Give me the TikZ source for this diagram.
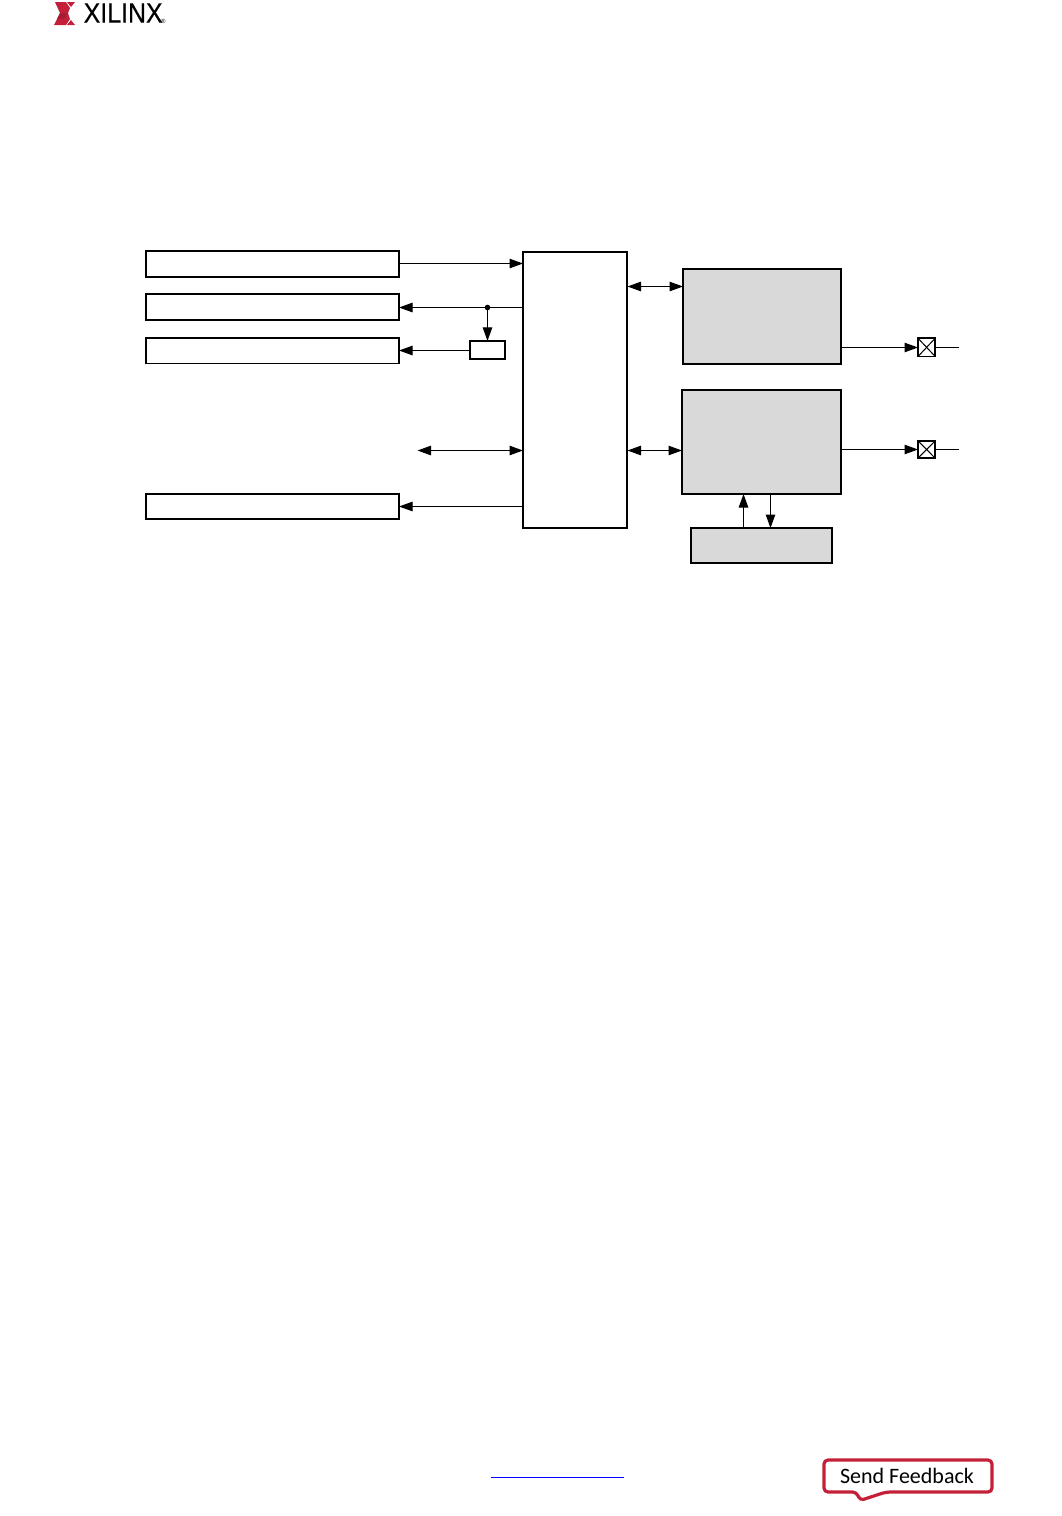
\documentclass[tikz,border=0pt]{standalone}
\usepackage{fontspec}
\setmainfont{Liberation Sans}
\newfontfamily\feedbackfont{Carlito}
\usetikzlibrary{positioning,arrows.meta,calc}
\definecolor{boxgray}{HTML}{D9D9D9}
\definecolor{xred}{HTML}{C4203A}
\definecolor{xdark}{HTML}{A81C34}
\begin{document}
\begin{tikzpicture}[
x=1pt, y=-1pt,
>={Triangle[length=13.5pt,width=9.5pt]},
wbox/.style={draw, line width=1.7pt, fill=white, inner sep=0pt, outer sep=0pt, minimum width=253pt},
gbox/.style={draw, line width=1.7pt, fill=boxgray, inner sep=0pt, outer sep=0pt},
padbox/.style={draw, line width=1.7pt, fill=white, inner sep=0pt, outer sep=0pt, minimum width=17.2pt},
conn/.style={line width=1pt}
]
\useasboundingbox (0,0) rectangle (1062,1516);
% left column
\node[wbox, minimum height=26pt] (memA) at (272.5,264) {};
\node[wbox, minimum height=26pt] (memB) at (272.5,307) {};
\node[wbox, minimum height=25.5pt] (memC) at (272.5,350.75) {};
\node[wbox, minimum height=25pt] (memD) at (272.5,506.5) {};
\node[draw, line width=1.7pt, inner sep=0pt, outer sep=0pt, minimum width=35.5pt, minimum height=18pt] (dly) at (487.55,349.9) {};
% centre and right column
\node[draw, line width=1.7pt, inner sep=0pt, outer sep=0pt, minimum width=104pt, minimum height=276pt] (core) at (575,390) {};
\node[gbox, minimum width=158pt, minimum height=95pt] (macA) at (762,316.5) {};
\node[gbox, minimum width=159pt, minimum height=104pt] (macB) at (761.5,442) {};
\node[gbox, minimum width=141pt, minimum height=35pt] (phy) at (761.5,545.5) {};
\node[padbox, minimum height=18.3pt] (padA) at (926.6,347.35) {};
\node[padbox, minimum height=17.4pt] (padB) at (926.6,449.5) {};
\draw[conn] (padA.north west) -- (padA.south east) (padA.north east) -- (padA.south west);
\draw[conn] (padB.north west) -- (padB.south east) (padB.north east) -- (padB.south west);
\coordinate (lnA) at (400,263.5);
\coordinate (lnB) at (400,307.5);
\coordinate (lnC) at (400,350.5);
\coordinate (lnD) at (400,506.5);
\coordinate (ext) at (417.5,450.5);
\coordinate (endA) at (959,347.5);
\coordinate (endB) at (959,449.5);
\coordinate (tapB) at (487.5,307.5);
\coordinate (linkA) at (627.5,286.5);
\coordinate (linkB) at (627.5,450.5);
\coordinate (upX) at (743.5,528);
\coordinate (downX) at (770.5,494);
% connectors
\draw[conn,->] (memA.east |- lnA) -- (core.west |- lnA);
\draw[conn,->] (core.west |- lnB) -- (memB.east |- lnB);
\draw[conn,->] (tapB) -- (tapB |- dly.north);
\fill (tapB) circle (2.8pt);
\draw[conn,->] (dly.west |- lnC) -- (memC.east |- lnC);
\draw[conn,<->] (ext) -- (core.west |- ext);
\draw[conn,->] (core.west |- lnD) -- (memD.east |- lnD);
\draw[conn,<->] (linkA) -- (macA.west |- linkA);
\draw[conn,<->] (linkB) -- (macB.west |- linkB);
\draw[conn,->] (macA.east |- endA) -- (padA.west |- endA);
\draw[conn,->] (macB.east |- endB) -- (padB.west |- endB);
\draw[conn] (padA.east |- endA) -- (endA);
\draw[conn] (padB.east |- endB) -- (endB);
\draw[conn,->] (upX) -- (upX |- macB.south);
\draw[conn,->] (downX) -- (downX |- phy.north);
% header logo
\fill[xred] (55,2) -- (66,2) -- (70,8) -- (68,13) -- (70,19) -- (66,25) -- (54,25) -- (60,13) -- cycle;
\fill[xdark] (60,13) -- (68,13) -- (64,19) -- (57,19) -- cycle;
\fill[xred] (67,2) -- (75,2) -- (71,7) -- cycle (71,20) -- (75,25) -- (67,25) -- cycle;
\node[inner sep=0pt, anchor=west, xscale=0.89] (logo) at (83.5,13) {\fontsize{28}{30}\selectfont\addfontfeature{FakeBold=0.4}XILINX};
\node[inner sep=0pt, anchor=west] (regmark) at (161,21) {\fontsize{6}{6}\selectfont ®};
% footer
\node[inner sep=0pt, outer sep=0pt, minimum width=133pt, minimum height=0pt] (pagelink) at (557.5,1477) {};
\draw[blue, line width=1pt] (pagelink.west) -- (pagelink.east);
\draw[xred, line width=3.2pt, fill=white, rounded corners=4pt] (824,1460) -- (992,1460) -- (992,1492) -- (886,1492) -- (860,1500.5) -- (856.5,1492) -- (824,1492) -- cycle;
\node[inner sep=0pt] (feedback) at (907,1475.5) {\feedbackfont\fontsize{22}{24}\selectfont Send Feedback};
\end{tikzpicture}
\end{document}
